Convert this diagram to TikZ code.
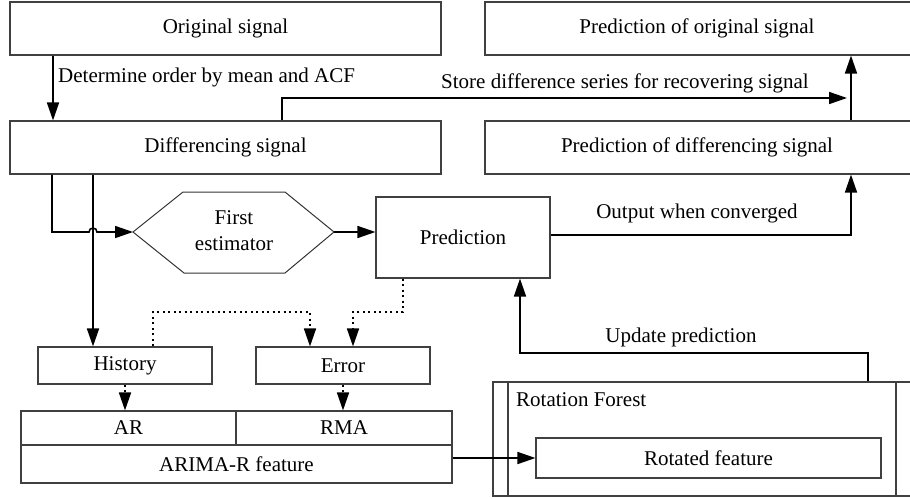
\documentclass[tikz,border=0pt]{standalone}
\usepackage{fontspec}
\setmainfont{Liberation Serif}
\usetikzlibrary{arrows.meta}
\begin{document}
\begin{tikzpicture}[x=1pt,y=-1pt,
  font=\fontsize{21}{24}\selectfont,
  box/.style={draw=black!75, line width=1.1pt, inner sep=0pt, rectangle, align=center},
  conn/.style={draw=black, line width=1.6pt, -{Triangle[length=18pt,width=12pt]}},
  dotconn/.style={conn, dash pattern=on 2pt off 3.5pt},
  lbl/.style={inner sep=0pt}]
\useasboundingbox (0,0) rectangle (910,498);
\clip (0,0) rectangle (910,498);

% boxes
\node[box, minimum width=431pt, minimum height=53pt] (orig) at (225.5,28.5) {Original signal};
\node[box, minimum width=440pt, minimum height=53pt] (porig) at (705,28.5) {};
\node[lbl] (porigtxt) at (697,28.5) {Prediction of original signal};
\node[box, minimum width=431pt, minimum height=53pt] (diff) at (225.5,147.5) {Differencing signal};
\node[box, minimum width=440pt, minimum height=53pt] (pdiff) at (705,147.5) {};
\node[lbl] (pdifftxt) at (697,147.5) {Prediction of differencing signal};
\node[box, minimum width=174pt, minimum height=81pt] (pred) at (463,237.5) {Prediction};
\node[box, minimum width=174pt, minimum height=37pt] (hist) at (125,365.5) {History};
\node[box, minimum width=174pt, minimum height=37pt] (err) at (343,365.5) {Error};
\node[box, minimum width=215pt, minimum height=34pt] (ar) at (128.5,428) {AR};
\node[box, minimum width=216pt, minimum height=34pt] (rma) at (344,428) {RMA};
\node[box, minimum width=431pt, minimum height=38pt] (arima) at (236.5,464) {ARIMA-R feature};
\node[box, minimum width=440pt, minimum height=114pt] (rf) at (713,439) {};
\draw[black!75, line width=1.1pt] (508,0 |- rf.north) -- (508,0 |- rf.south);
\draw[black!75, line width=1.1pt] (896,0 |- rf.north) -- (896,0 |- rf.south);
\node[lbl, anchor=west] (rftxt) at (516,400) {Rotation Forest};
\node[box, minimum width=345pt, minimum height=40pt] (rot) at (708.5,458) {Rotated feature};

% hexagon
\coordinate (estL) at (133,232);
\coordinate (estR) at (334,232);
\draw[black!80, line width=1pt] (estL) -- (183,192) -- (285,192) -- (estR) -- (285,273) -- (184,273) -- cycle;
\node[lbl, align=center, font=\fontsize{21}{26}\selectfont] (est) at (234,231) {First\\estimator};

% connectors
\draw[conn] (53,0 |- orig.south) -- (53,0 |- diff.north);
\node[lbl, anchor=west] (ldet) at (58,77) {Determine order by mean and ACF};

\coordinate (storeEnd) at (847,98);
\draw[conn] (282,0 |- diff.north) |- (storeEnd);
\node[lbl] (lstore) at (625,83) {Store difference series for recovering signal};

\draw[conn] (851,0 |- pdiff.north) -- (851,0 |- porig.south);
\draw[conn] (pred.east |- 0,235) -| (851,0 |- pdiff.south);
\node[lbl] (lout) at (697,213) {Output when converged};

\draw[conn] (52,0 |- diff.south) -- (52,232) -- (89,232) arc[start angle=180, end angle=0, radius=4pt] -- (estL);
\draw[conn] (93,0 |- diff.south) -- (93,0 |- hist.north);
\draw[conn] (estR) -- (pred.west |- estR);

\draw[dotconn] (403,0 |- pred.south) |- (353,312) -- (353,0 |- err.north);
\draw[dotconn] (153,0 |- hist.north) |- (310,312) -- (310,0 |- err.north);

\draw[dotconn] (125,0 |- hist.south) -- (125,0 |- ar.north);
\draw[dotconn] (343,0 |- err.south) -- (343,0 |- rma.north);

\draw[conn] (arima.east |- rot.west) -- (rot.west);

\draw[conn] (868,0 |- rf.north) |- (520,353) -- (520,0 |- pred.south);
\node[lbl] (lupd) at (681,337) {Update prediction};
\end{tikzpicture}
\end{document}
